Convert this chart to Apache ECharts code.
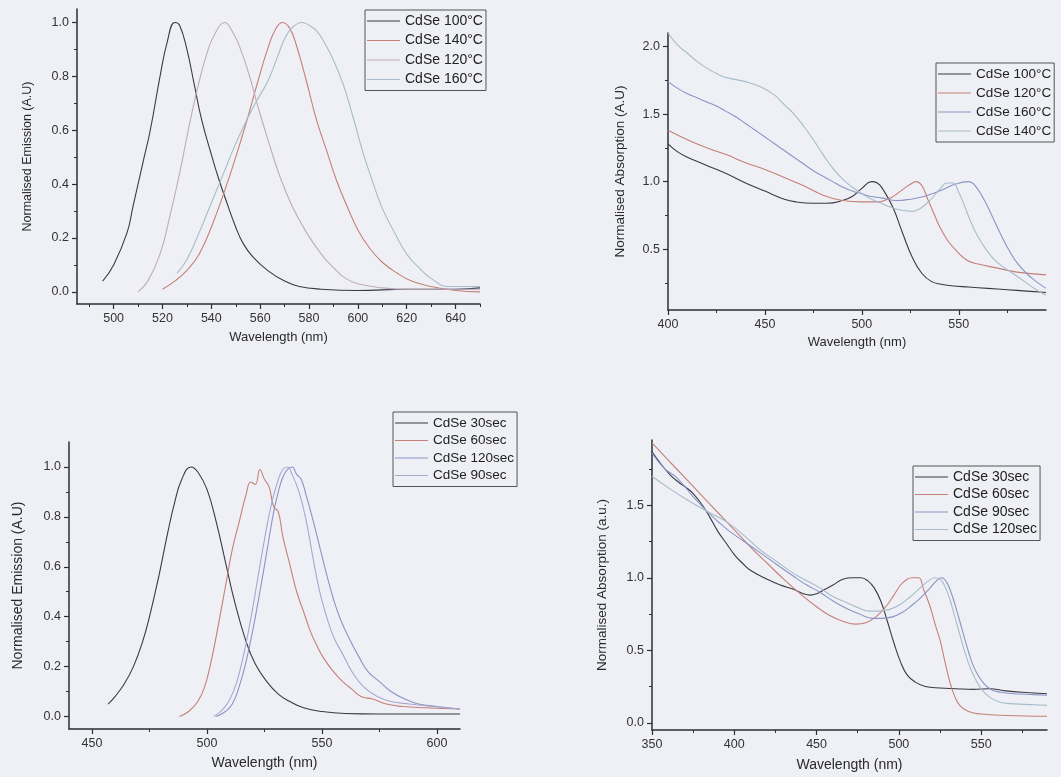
<!DOCTYPE html>
<html>
<head>
<meta charset="utf-8">
<script src="https://cdn.jsdelivr.net/npm/echarts@6/dist/echarts.min.js"></script>
<style>
  html, body { margin: 0; padding: 0; background: #eff0f5; }
  body { width: 1061px; height: 777px; position: relative; overflow: hidden; }
  .panel { position: absolute; }
</style>
</head>
<body>
<div id="p1" class="panel" style="left:0;top:0;width:540px;height:388px"></div>
<div id="p2" class="panel" style="left:540px;top:0;width:521px;height:388px"></div>
<div id="p3" class="panel" style="left:0;top:388px;width:540px;height:389px"></div>
<div id="p4" class="panel" style="left:540px;top:388px;width:521px;height:389px"></div>
<script>
/* ---------------------------- data: temperature ---------------------------- */
const emission100 = [[495.5,0.04],[500,0.10],[505.5,0.22],[508,0.32],[512,0.48],[515,0.60],[519,0.80],[522,0.93],[525,1.0],[527,0.99],[530,0.90],[533,0.77],[536,0.64],[540,0.51],[543,0.42],[546,0.34],[550,0.24],[553,0.18],[557,0.13],[563,0.08],[570,0.04],[576,0.02],[585,0.01],[600,0.005],[620,0.01],[640,0.01],[650,0.015]];
const emission140 = [[520,0.01],[525,0.04],[530,0.08],[535,0.14],[540,0.24],[546,0.39],[550,0.50],[555,0.65],[559,0.78],[563,0.90],[566,0.97],[569,1.0],[572,0.98],[575,0.91],[579,0.78],[583,0.64],[587,0.53],[591,0.42],[595,0.33],[600,0.23],[605,0.16],[610,0.11],[616,0.07],[622,0.04],[630,0.02],[640,0.005],[650,0.0]];
const emission120 = [[510,0.0],[514,0.04],[519,0.14],[523,0.28],[527,0.44],[531,0.62],[535,0.78],[538,0.88],[541,0.95],[545.5,1.0],[549,0.96],[552,0.90],[556,0.79],[559,0.69],[563,0.57],[568,0.43],[573,0.32],[579,0.22],[585,0.14],[590,0.09],[595,0.05],[600,0.03],[610,0.015],[620,0.01],[635,0.01],[650,0.01]];
const emission160 = [[526,0.07],[530,0.12],[535,0.22],[540,0.33],[545,0.44],[549,0.53],[553,0.61],[558,0.70],[563,0.78],[567,0.87],[570,0.94],[573,0.98],[577,1.0],[580,0.99],[583,0.97],[586,0.93],[590,0.86],[594,0.77],[598,0.65],[602,0.52],[606,0.41],[610,0.31],[615,0.22],[620,0.14],[625,0.09],[630,0.05],[637,0.02],[645,0.02],[650,0.02]];

const absorb100 = [[400,1.28],[405,1.22],[410,1.18],[420,1.12],[430,1.06],[440,0.99],[450,0.93],[460,0.87],[466,0.85],[475,0.84],[482,0.84],[490,0.86],[495,0.89],[500,0.95],[505,1.0],[508,0.99],[511,0.94],[516,0.81],[521,0.62],[526,0.44],[531,0.32],[536,0.26],[541,0.24],[546,0.23],[555,0.22],[565,0.21],[575,0.20],[585,0.19],[595,0.18]];
const absorb120 = [[400,1.38],[410,1.31],[420,1.25],[430,1.20],[440,1.14],[450,1.09],[460,1.03],[470,0.97],[480,0.90],[490,0.86],[500,0.85],[508,0.85],[515,0.88],[520,0.93],[525,0.98],[528,1.0],[531,0.97],[534,0.87],[537,0.77],[540,0.67],[544,0.57],[548,0.50],[554,0.42],[560,0.39],[570,0.36],[580,0.33],[595,0.31]];
const absorb160 = [[400,1.74],[405,1.69],[410,1.65],[415,1.62],[420,1.59],[425,1.56],[430,1.52],[435,1.48],[440,1.43],[445,1.38],[450,1.33],[455,1.28],[460,1.23],[465,1.18],[470,1.13],[475,1.08],[480,1.04],[485,1.00],[490,0.96],[495,0.93],[500,0.91],[505,0.89],[510,0.88],[518,0.86],[525,0.87],[532,0.89],[540,0.93],[548,0.98],[555,1.0],[559,0.96],[564,0.84],[568,0.72],[572,0.60],[576,0.49],[580,0.40],[585,0.32],[590,0.26],[595,0.21]];
const absorb140 = [[400,2.10],[405,2.01],[410,1.95],[415,1.89],[420,1.84],[425,1.80],[430,1.77],[440,1.74],[448,1.70],[455,1.64],[460,1.57],[465,1.50],[470,1.41],[475,1.31],[480,1.20],[485,1.10],[490,1.02],[495,0.96],[500,0.91],[505,0.87],[510,0.84],[515,0.81],[520,0.79],[526,0.78],[530,0.80],[535,0.86],[540,0.94],[544,0.99],[547,0.99],[550,0.92],[553,0.82],[556,0.71],[560,0.59],[565,0.48],[570,0.40],[578,0.32],[584,0.26],[590,0.20],[595,0.16]];

/* ------------------------------ data: time -------------------------------- */
const emission30s = [[457,0.05],[460,0.08],[464,0.13],[468,0.20],[472,0.30],[475,0.40],[479,0.56],[483,0.74],[486,0.86],[489,0.95],[493,1.0],[496,0.98],[500,0.91],[504,0.78],[508,0.62],[512,0.46],[517,0.30],[521,0.21],[526,0.14],[531,0.09],[536,0.06],[542,0.035],[550,0.02],[560,0.012],[575,0.01],[590,0.01],[610,0.01]];
const emission60s = [[488,0.0],[492,0.02],[496,0.06],[499,0.12],[502,0.23],[505,0.37],[508,0.52],[511,0.67],[514,0.78],[517,0.89],[519,0.94],[521,0.93],[523,0.99],[525,0.95],[527,0.92],[529,0.84],[531,0.82],[533,0.72],[536,0.61],[539,0.50],[542,0.42],[545,0.34],[548,0.28],[551,0.23],[555,0.18],[559,0.14],[563,0.11],[567,0.08],[572,0.07],[578,0.05],[585,0.04],[595,0.035],[610,0.03]];
const emission120s = [[504,0.0],[508,0.02],[511,0.05],[514,0.12],[517,0.22],[520,0.35],[523,0.50],[526,0.66],[529,0.82],[531,0.90],[533,0.96],[535,0.99],[537,1.0],[539,0.97],[541,0.95],[543,0.89],[546,0.79],[549,0.68],[552,0.57],[555,0.47],[558,0.39],[562,0.31],[566,0.24],[570,0.18],[575,0.14],[580,0.10],[586,0.07],[592,0.05],[600,0.04],[610,0.03]];
const emission90s = [[503,0.0],[507,0.03],[510,0.07],[513,0.14],[516,0.25],[519,0.39],[522,0.55],[525,0.71],[528,0.85],[531,0.95],[533,0.99],[535,1.0],[537,0.97],[540,0.90],[543,0.79],[546,0.64],[549,0.50],[552,0.40],[555,0.32],[559,0.25],[563,0.18],[568,0.12],[574,0.08],[580,0.06],[588,0.05],[598,0.04],[610,0.03]];

const absorb30s = [[350,1.87],[355,1.79],[361,1.71],[366,1.66],[371,1.62],[375,1.58],[380,1.51],[385,1.42],[390,1.32],[395,1.24],[400,1.16],[405,1.10],[410,1.05],[420,0.99],[428,0.95],[436,0.92],[442,0.89],[446,0.88],[450,0.89],[455,0.92],[460,0.95],[466,0.99],[472,1.0],[477,1.0],[481,0.98],[485,0.93],[489,0.84],[493,0.70],[497,0.55],[501,0.42],[505,0.33],[510,0.28],[516,0.25],[525,0.24],[535,0.235],[545,0.23],[555,0.235],[565,0.22],[575,0.21],[590,0.20]];
const absorb60s = [[350,1.93],[360,1.81],[370,1.69],[380,1.57],[390,1.45],[400,1.33],[410,1.21],[420,1.10],[430,0.99],[440,0.89],[450,0.80],[458,0.74],[466,0.70],[474,0.68],[480,0.69],[486,0.73],[492,0.80],[497,0.88],[501,0.95],[505,0.99],[508,1.0],[512,1.0],[515,0.92],[519,0.80],[522,0.68],[525,0.57],[528,0.42],[531,0.28],[534,0.18],[537,0.12],[542,0.08],[550,0.06],[565,0.05],[590,0.045]];
const absorb90s = [[350,1.86],[357,1.76],[365,1.69],[375,1.56],[385,1.44],[396,1.33],[406,1.25],[416,1.17],[426,1.09],[436,1.01],[444,0.95],[452,0.90],[460,0.84],[468,0.79],[476,0.75],[484,0.72],[490,0.72],[496,0.73],[502,0.76],[508,0.81],[514,0.87],[519,0.93],[523,0.98],[526,1.0],[529,0.97],[532,0.89],[535,0.78],[538,0.66],[541,0.54],[544,0.43],[547,0.35],[551,0.28],[556,0.23],[562,0.21],[570,0.20],[580,0.195],[590,0.19]];
const absorb120s = [[350,1.70],[360,1.62],[371,1.54],[383,1.46],[396,1.38],[406,1.29],[416,1.19],[426,1.11],[436,1.03],[444,0.98],[452,0.93],[460,0.87],[468,0.83],[476,0.79],[482,0.77],[488,0.77],[494,0.78],[500,0.81],[506,0.86],[512,0.92],[517,0.97],[522,1.0],[525,0.99],[528,0.94],[531,0.85],[534,0.73],[537,0.61],[540,0.49],[543,0.39],[547,0.29],[551,0.22],[556,0.17],[562,0.14],[570,0.13],[580,0.125],[590,0.12]];

/* ------------------------------- tick values ------------------------------- */
const ticksX1 = [500, 520, 540, 560, 580, 600, 620, 640];
const minorX1 = [490, 510, 530, 550, 570, 590, 610, 630, 650];
const ticksY1 = [0, 0.2, 0.4, 0.6, 0.8, 1.0];
const minorY1 = [0.1, 0.3, 0.5, 0.7, 0.9];
const ticksX2 = [400, 450, 500, 550];
const minorX2 = [425, 475, 525, 575];
const ticksY2 = [0.5, 1.0, 1.5, 2.0];
const minorY2 = [0.25, 0.75, 1.25, 1.75];
const ticksX3 = [450, 500, 550, 600];
const minorX3 = [475, 525, 575];
const ticksY3 = [0, 0.2, 0.4, 0.6, 0.8, 1.0];
const minorY3 = [0.1, 0.3, 0.5, 0.7, 0.9];
const ticksX4 = [350, 400, 450, 500, 550];
const minorX4 = [375, 425, 475, 525, 575];
const ticksY4 = [0, 0.5, 1.0, 1.5];
const minorY4 = [0.25, 0.75, 1.25, 1.75];

/* --------------------------------- styles ---------------------------------- */
const FONT = "'Liberation Sans', Arial, sans-serif";
const AXIS = "#2e2e36";
const BLACK = "#3a3a44";
const RED = "#c48078";
const BLUE = "#8a94c6";
const MAUVE = "#bfaac0";
const LIGHT = "#a6bccb";
const LAVENDER = "#aaa6d2";

const axisPair = (dim, cfg) => {
  const pos = dim === "x" ? "bottom" : "left";
  const major = {
    type: "value",
    position: pos,
    min: cfg.min,
    max: cfg.max,
    name: cfg.name,
    nameLocation: "middle",
    nameGap: cfg.nameGap,
    nameTextStyle: { fontFamily: FONT, fontSize: cfg.nameSize, color: "#2a2a2a" },
    axisLine: { onZero: false, lineStyle: { color: AXIS, width: 1.5 } },
    axisTick: { customValues: cfg.ticks, length: 5, lineStyle: { color: AXIS, width: 1.2 } },
    axisLabel: {
      customValues: cfg.ticks,
      margin: 8,
      fontFamily: FONT,
      fontSize: 12.5,
      color: "#333",
      formatter: (v) => (dim === "x" ? String(Math.round(v)) : v.toFixed(1)),
    },
    splitLine: { show: false },
  };
  const minor = {
    type: "value",
    position: pos,
    min: cfg.min,
    max: cfg.max,
    axisLine: { show: false, onZero: false },
    axisTick: { customValues: cfg.minor, length: 3, lineStyle: { color: AXIS, width: 1 } },
    axisLabel: { show: false },
    splitLine: { show: false },
  };
  return [major, minor];
};

const lineSeries = (name, data, color) => ({
  type: "line",
  name,
  data,
  xAxisIndex: 0,
  yAxisIndex: 0,
  symbol: "none",
  smooth: 0.45,
  lineStyle: { width: 1.1, color },
  itemStyle: { color },
  emphasis: { disabled: true },
});

// Origin-style legend: a plain line sample, boxed
const legendBox = (left, top, names, fontSize, gap) => ({
  orient: "vertical",
  left,
  top,
  data: names,
  selectedMode: false,
  icon: "rect",
  padding: [4, 3, 4, 2],
  itemGap: gap,
  itemWidth: 33,
  itemHeight: 1.2,
  borderColor: "#555",
  borderWidth: 1,
  textStyle: { fontFamily: FONT, fontSize, color: "#222", lineHeight: fontSize },
});

const drawPanel = (id, grid, xCfg, yCfg, series, legend) => {
  const chart = echarts.init(document.getElementById(id));
  chart.setOption({
    animation: false,
    backgroundColor: "transparent",
    grid,
    xAxis: axisPair("x", xCfg),
    yAxis: axisPair("y", yCfg),
    legend,
    series,
  });
};

/* -------------------------- emission vs temperature ------------------------ */
drawPanel(
  "p1",
  { left: 77, top: 9, width: 403, height: 295 },
  { min: 485, max: 650, ticks: ticksX1, minor: minorX1, name: "Wavelength (nm)", nameGap: 27, nameSize: 13 },
  { min: -0.045, max: 1.05, ticks: ticksY1, minor: minorY1, name: "Normalised Emission (A.U)", nameGap: 43, nameSize: 12.5 },
  [
    lineSeries("CdSe 100°C", emission100, BLACK),
    lineSeries("CdSe 140°C", emission140, RED),
    lineSeries("CdSe 120°C", emission120, MAUVE),
    lineSeries("CdSe 160°C", emission160, LIGHT),
  ],
  legendBox(365, 10, ["CdSe 100°C", "CdSe 140°C", "CdSe 120°C", "CdSe 160°C"], 14, 5.5)
);

/* ------------------------- absorption vs temperature ----------------------- */
drawPanel(
  "p2",
  { left: 128, top: 33, width: 378, height: 277 },
  { min: 400, max: 595, ticks: ticksX2, minor: minorX2, name: "Wavelength (nm)", nameGap: 26, nameSize: 13 },
  { min: 0.05, max: 2.1, ticks: ticksY2, minor: minorY2, name: "Normalised Absorption (A.U)", nameGap: 41, nameSize: 13.5 },
  [
    lineSeries("CdSe 100°C", absorb100, BLACK),
    lineSeries("CdSe 120°C", absorb120, RED),
    lineSeries("CdSe 160°C", absorb160, BLUE),
    lineSeries("CdSe 140°C", absorb140, LIGHT),
  ],
  legendBox(396, 63, ["CdSe 100°C", "CdSe 120°C", "CdSe 160°C", "CdSe 140°C"], 13.5, 5)
);

/* ----------------------------- emission vs time ---------------------------- */
drawPanel(
  "p3",
  { left: 69, top: 54, width: 391, height: 287 },
  { min: 440, max: 610, ticks: ticksX3, minor: minorX3, name: "Wavelength (nm)", nameGap: 27, nameSize: 14 },
  { min: -0.05, max: 1.1, ticks: ticksY3, minor: minorY3, name: "Normalised Emission (A.U)", nameGap: 44, nameSize: 14 },
  [
    lineSeries("CdSe 30sec", emission30s, BLACK),
    lineSeries("CdSe 60sec", emission60s, RED),
    lineSeries("CdSe 120sec", emission120s, BLUE),
    lineSeries("CdSe 90sec", emission90s, LAVENDER),
  ],
  legendBox(393, 24, ["CdSe 30sec", "CdSe 60sec", "CdSe 120sec", "CdSe 90sec"], 13.5, 3.5)
);

/* ---------------------------- absorption vs time --------------------------- */
drawPanel(
  "p4",
  { left: 112, top: 52, width: 395, height: 290 },
  { min: 350, max: 590, ticks: ticksX4, minor: minorX4, name: "Wavelength (nm)", nameGap: 28, nameSize: 14 },
  { min: -0.05, max: 1.95, ticks: ticksY4, minor: minorY4, name: "Normalised Absorption (a.u.)", nameGap: 43, nameSize: 13.5 },
  [
    lineSeries("CdSe 30sec", absorb30s, BLACK),
    lineSeries("CdSe 60sec", absorb60s, RED),
    lineSeries("CdSe 90sec", absorb90s, BLUE),
    lineSeries("CdSe 120sec", absorb120s, LIGHT),
  ],
  legendBox(373, 78, ["CdSe 30sec", "CdSe 60sec", "CdSe 90sec", "CdSe 120sec"], 14, 3.5)
);
</script>
</body>
</html>
